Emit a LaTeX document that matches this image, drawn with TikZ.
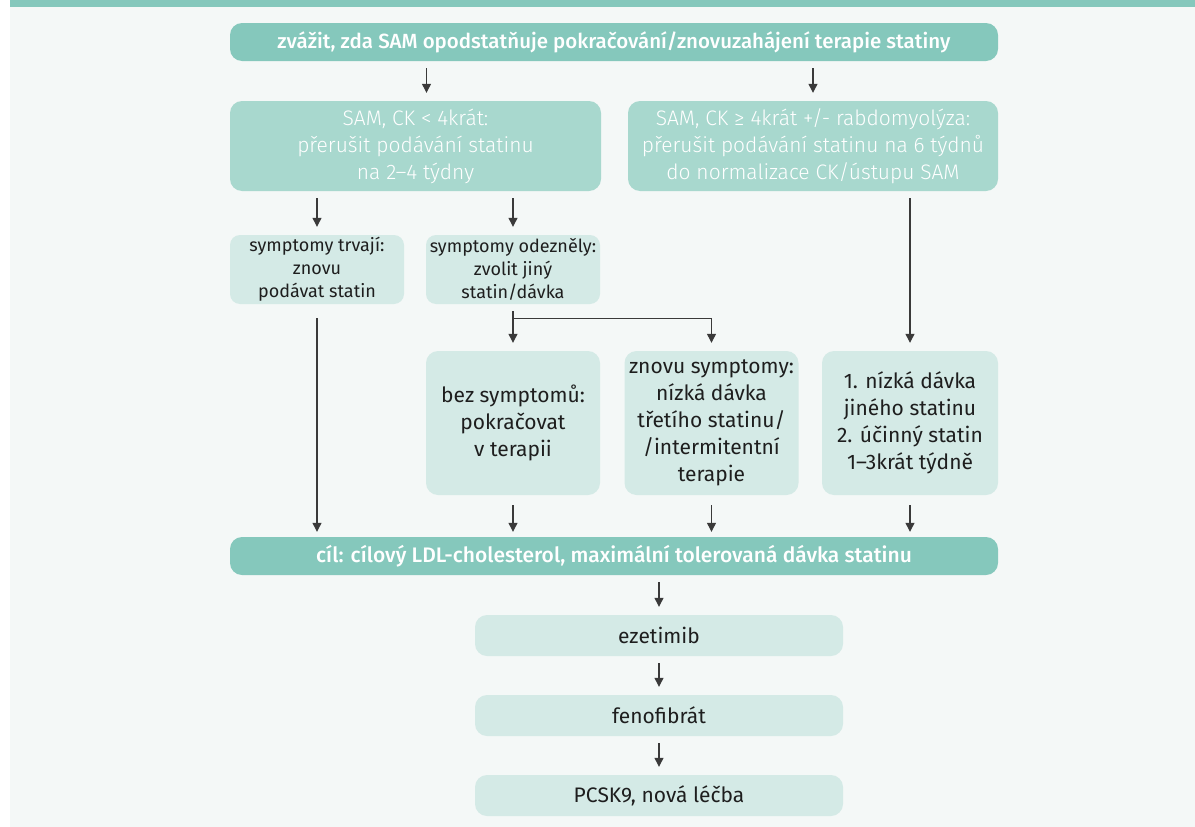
\documentclass[tikz,border=0pt]{standalone}
\usepackage{fontspec}
\setmainfont{Fira Sans}
\newfontfamily\medfont{Fira Sans Medium}
\newfontfamily\lightfont{Fira Sans Light}
\usetikzlibrary{arrows.meta}
\definecolor{bgcol}{HTML}{F4F8F7}
\definecolor{headcol}{HTML}{85C8BC}
\definecolor{midcol}{HTML}{A8D8CE}
\definecolor{lightcol}{HTML}{D4EAE6}
\definecolor{linecol}{HTML}{3A3A3A}
\definecolor{textcol}{HTML}{1E1E1E}
\begin{document}
\begin{tikzpicture}[x=1pt,y=-1pt,
    head/.style={fill=headcol,rounded corners=12pt,text=white,inner sep=0pt,
      minimum width=768pt,minimum height=38pt,font=\medfont\fontsize{20.5}{24}\selectfont},
    midbox/.style={fill=midcol,rounded corners=12pt,text=white,inner sep=0pt,align=center,
      minimum width=370pt,minimum height=90pt,font=\lightfont\fontsize{21}{27}\selectfont},
    smallbox/.style={fill=lightcol,rounded corners=10pt,text=textcol,inner sep=0pt,align=center,
      minimum width=174pt,minimum height=69pt,font=\fontsize{18}{23}\selectfont},
    tallbox/.style={smallbox,rounded corners=12pt,minimum height=144pt,font=\fontsize{21}{27}\selectfont},
    stepbox/.style={fill=lightcol,rounded corners=12pt,text=textcol,inner sep=0pt,
      minimum width=368pt,minimum height=41pt,font=\fontsize{21}{24}\selectfont},
    arr/.style={draw=linecol,line width=1.2pt,-{Triangle[length=9pt,width=9pt]},
      shorten <=7pt,shorten >=8pt}]
  % background
  \fill[white] (0,0) rectangle (1195,827);
  \fill[bgcol] (10,0) rectangle (1195,827);
  \fill[headcol] (10,0) rectangle (1195,7);
  \useasboundingbox (0,0) rectangle (1195,827);

  \node[head] (top) at (614,42) {zvážit, zda SAM opodstatňuje pokračování/znovuzahájení terapie statiny};
  \node[midbox,minimum width=371pt] (low) at (415.5,146) {SAM, CK < 4krát:\\přerušit podávání statinu\\na 2–4 týdny};
  \node[midbox] (high) at (813,146) {SAM, CK ≥ 4krát +/- rabdomyolýza:\\přerušit podávání statinu na 6 týdnů\\do normalizace CK/ústupu SAM};
  \node[smallbox] (persist) at (317,269.5) {symptomy trvají:\\znovu\\podávat statin};
  \node[smallbox] (resolved) at (513,269.5) {symptomy odezněly:\\zvolit jiný\\statin/dávka};
  \node[tallbox] (nosym) at (513,423) {bez symptomů:\\pokračovat\\v terapii};
  \node[tallbox] (again) at (711.5,423) {znovu symptomy:\\nízká dávka\\třetího statinu/\\/intermitentní\\terapie};
  \node[tallbox,minimum width=176pt] (lowdose) at (910,423) {1. nízká dávka\\jiného statinu\\2. účinný statin\\1–3krát týdně};
  \node[head,font=\medfont\fontsize{21}{24}\selectfont] (goal) at (614,556) {cíl: cílový LDL-cholesterol, maximální tolerovaná dávka statinu};
  \node[stepbox] (ezet) at (659,635.5) {ezetimib};
  \node[stepbox] (feno) at (659,715.5) {fenofibrát};
  \node[stepbox] (pcsk) at (659,795.5) {PCSK9, nová léčba};

  \draw[arr] ([xshift=11pt]low.north |- top.south) -- ([xshift=11pt]low.north);
  \draw[arr] (high.north |- top.south) -- (high.north);
  \draw[arr] (persist.north |- low.south) -- (persist.north);
  \draw[arr] (resolved.north |- low.south) -- (resolved.north);
  \draw[arr] (lowdose.north |- high.south) -- (lowdose.north);
  \draw[arr,shorten <=14pt,shorten >=5pt] (persist.south) -- (persist.south |- goal.north);
  \draw[arr] (resolved.south) -- (nosym.north);
  \draw[arr,shorten <=0pt] ([yshift=-14pt]resolved.south) -| (again.north);
  \foreach \src in {nosym,again,lowdose}{
    \draw[arr,shorten <=10pt,shorten >=5pt] (\src.south) -- (\src.south |- goal.north);
  }
  \foreach \src/\dst in {goal/ezet,ezet/feno,feno/pcsk}{
    \draw[arr] (\dst.north |- \src.south) -- (\dst.north);
  }
\end{tikzpicture}
\end{document}
